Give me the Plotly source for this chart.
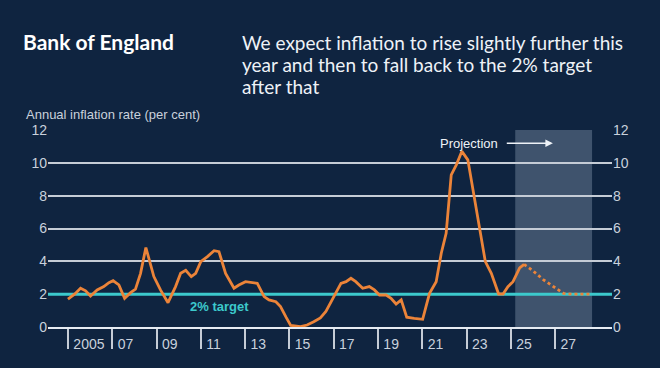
import plotly.graph_objects as go

# ---- data (decimal years, per cent) ----
hist_years = [2005.0, 2005.3, 2005.57, 2005.8, 2006.02, 2006.32, 2006.62, 2006.85, 2007.04, 2007.3,
              2007.56, 2007.83, 2008.05, 2008.28, 2008.52, 2008.88, 2009.18, 2009.52, 2009.86, 2010.09,
              2010.32, 2010.57, 2010.77, 2011.0, 2011.3, 2011.6, 2011.82, 2012.12, 2012.5, 2012.72,
              2013.02, 2013.33, 2013.55, 2013.86, 2014.08, 2014.39, 2014.6, 2014.85, 2015.06, 2015.5,
              2015.8, 2016.1, 2016.4, 2016.65, 2016.88, 2017.1, 2017.33, 2017.56, 2017.78, 2018.0,
              2018.31, 2018.61, 2018.84, 2019.07, 2019.37, 2019.59, 2019.82, 2020.05, 2020.3, 2020.64,
              2021.02, 2021.17, 2021.33, 2021.63, 2021.86, 2022.08, 2022.31, 2022.54, 2022.79, 2023.06,
              2023.36, 2023.59, 2023.85, 2024.12, 2024.45, 2024.65, 2024.87, 2025.1, 2025.4, 2025.6]
hist_values = [1.7, 2.0, 2.36, 2.2, 1.89, 2.26, 2.46, 2.7, 2.82, 2.56,
               1.75, 2.09, 2.3, 3.27, 4.84, 3.07, 2.26, 1.48, 2.46, 3.27,
               3.45, 3.07, 3.27, 3.98, 4.29, 4.65, 4.59, 3.27, 2.36, 2.56,
               2.76, 2.7, 2.66, 1.85, 1.65, 1.54, 1.24, 0.6, 0.1, 0.02,
               0.12, 0.32, 0.55, 0.95, 1.5, 2.1, 2.66, 2.76, 2.97, 2.76,
               2.36, 2.46, 2.26, 1.95, 1.95, 1.75, 1.4, 1.65, 0.6, 0.53,
               0.47, 1.24, 2.05, 2.76, 4.49, 5.71, 9.27, 9.88, 10.7, 10.18,
               7.74, 5.91, 3.98, 3.27, 2.01, 2.01, 2.46, 2.76, 3.6, 3.82]
proj_years = [2025.6, 2025.95, 2026.48, 2026.82, 2027.16, 2027.38, 2027.8, 2028.6]
proj_values = [3.82, 3.48, 2.87, 2.56, 2.26, 2.05, 2.0, 2.0]

target_value = 2.0
projection_start = 2025.2
projection_end = 2028.67

tick_years = [2005, 2007, 2009, 2011, 2013, 2015, 2017, 2019, 2021, 2023, 2025, 2027]
tick_labels = ["2005", "07", "09", "11", "13", "15", "17", "19", "21", "23", "25", "27"]
y_ticks = [0, 2, 4, 6, 8, 10, 12]

subtitle_lines = ["We expect inflation to rise slightly further this",
                  "year and then to fall back to the 2% target",
                  "after that"]

BG = "#0f2440"
GRID = "#c5ccd6"
TXT = "#c9d1dc"
ORANGE = "#ec8439"
TEAL = "#3cc9cc"
LABEL_GAP = 0.2  # years between tick mark and its label start

fig = go.Figure()

# projection shading
fig.add_shape(type="rect", xref="x", yref="y", x0=projection_start, x1=projection_end, y0=0, y1=12,
              fillcolor="rgba(190,205,225,0.28)", line_width=0, layer="below")

# target line
fig.add_trace(go.Scatter(x=[2004.1, 2029.57], y=[target_value, target_value], mode="lines",
                         line=dict(color=TEAL, width=3), hoverinfo="skip", showlegend=False))

fig.add_trace(go.Scatter(x=hist_years, y=hist_values, mode="lines",
                         line=dict(color=ORANGE, width=2.8), showlegend=False))
fig.add_trace(go.Scatter(x=proj_years, y=proj_values, mode="lines",
                         line=dict(color=ORANGE, width=2.8, dash="dot"), showlegend=False))
# invisible trace to activate right axis
fig.add_trace(go.Scatter(x=[2005], y=[0], yaxis="y2", mode="markers", marker=dict(opacity=0),
                         showlegend=False, hoverinfo="skip"))

fig.update_layout(
    width=660, height=368,
    paper_bgcolor=BG, plot_bgcolor=BG,
    margin=dict(l=48, r=48, t=130, b=41),
    font=dict(family="Liberation Sans", color=TXT, size=14),
    xaxis=dict(range=[2004.1, 2029.57], tickvals=[y + LABEL_GAP for y in tick_years],
               ticktext=tick_labels, ticklabelstandoff=3,
               ticks="", ticklabelposition="outside right", showgrid=False, zeroline=False,
               showline=True, linecolor="#e6ebf2", linewidth=2,
               tickfont=dict(size=14, color=TXT),
               minor=dict(tickvals=tick_years, ticks="outside", ticklen=20, tickcolor=GRID,
                          tickwidth=1.5, showgrid=False)),
    yaxis=dict(range=[0, 12], tickvals=y_ticks, showgrid=True, gridcolor=GRID, gridwidth=1.5,
               zeroline=False, showline=False, ticks="", tickfont=dict(size=14, color=TXT)),
    yaxis2=dict(range=[0, 12], tickvals=y_ticks, overlaying="y", side="right", showgrid=False,
                zeroline=False, showline=False, ticks="", tickfont=dict(size=14, color=TXT)),
)

fig.add_annotation(text="Bank of England", xref="paper", yref="paper", x=(21 - 48) / 564,
                   y=(327 - 41) / 197, xanchor="left", yanchor="middle", showarrow=False,
                   font=dict(family="Lato", size=21, color="white", weight="bold"))
for i, line in enumerate(subtitle_lines):
    fig.add_annotation(text=line, xref="paper", yref="paper", x=(240 - 48) / 564,
                       y=(327 - (42 + 22 * i)) / 197, xanchor="left", yanchor="middle",
                       showarrow=False, font=dict(family="Lato", size=19, color="#eef2f7"))
fig.add_annotation(text="Annual inflation rate (per cent)", xref="paper", yref="paper",
                   x=(24 - 48) / 564, y=(327 - 114) / 197, xanchor="left", yanchor="middle",
                   showarrow=False, font=dict(size=13, color=TXT))
fig.add_annotation(text="<b>2% target</b>", x=2011.86, y=1.22, showarrow=False,
                   font=dict(size=13, color=TEAL))
fig.add_annotation(text="Projection", x=2023.12, y=11.2, showarrow=False,
                   font=dict(size=13, color="#eef2f7"))
fig.add_annotation(text="", x=2026.9, y=11.2, ax=2024.75, ay=11.2, axref="x", ayref="y",
                   showarrow=True, arrowhead=2, arrowsize=1, arrowwidth=1.5, arrowcolor="#eef2f7")

fig.write_html("out.html", config={"displayModeBar": False},
               post_script="document.body.style.margin='0';document.body.style.padding='0';"
                           "document.body.style.background='#0f2440';")
